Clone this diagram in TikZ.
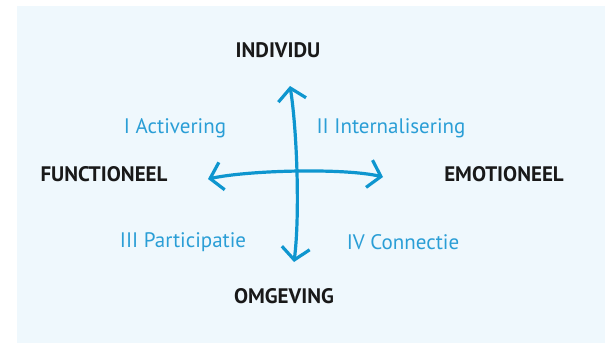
\documentclass[tikz,border=0pt]{standalone}
\usepackage{fontspec}
\setmainfont{PT Sans}
\usetikzlibrary{arrows.meta}
\definecolor{bgblue}{HTML}{EFF8FD}
\definecolor{axisblue}{HTML}{0E96CF}
\definecolor{quadblue}{HTML}{2A9ED6}
\begin{document}
\begin{tikzpicture}[x=1pt,y=-1pt,line width=3.2pt,
                    >={Straight Barb[length=12pt,width=28pt]}]
  \tikzstyle{pole}=[font=\fontsize{21}{24}\selectfont\bfseries,text=black!90]
  \tikzstyle{quadrant}=[font=\fontsize{21}{24}\selectfont,text=quadblue]

  \useasboundingbox (0,0) rectangle (605,343);
  \fill[bgblue] (17,6) rectangle (605,343);

  \node[pole] (ind)  at (278,50)  {INDIVIDU};
  \node[pole] (func) at (104,174) {FUNCTIONEEL};
  \node[pole] (emo)  at (504,174) {EMOTIONEEL};
  \node[pole] (omg)  at (284,296) {OMGEVING};

  \node[quadrant] (act)  at (175,128) {I Activering};
  \node[quadrant] (int)  at (391,128) {II Internalisering};
  \node[quadrant] (part) at (183,242) {III Participatie};
  \node[quadrant] (con)  at (403,242) {IV Connectie};

  \coordinate (up)    at (290,86);
  \coordinate (down)  at (294,262);
  \coordinate (left)  at (208,179);
  \coordinate (right) at (383,177);

  \draw[<->,axisblue] (up) .. controls (297,130) and (300,215) .. (down);
  \draw[<->,axisblue] (left) .. controls (250,170) and (345,168) .. (right);
\end{tikzpicture}
\end{document}
